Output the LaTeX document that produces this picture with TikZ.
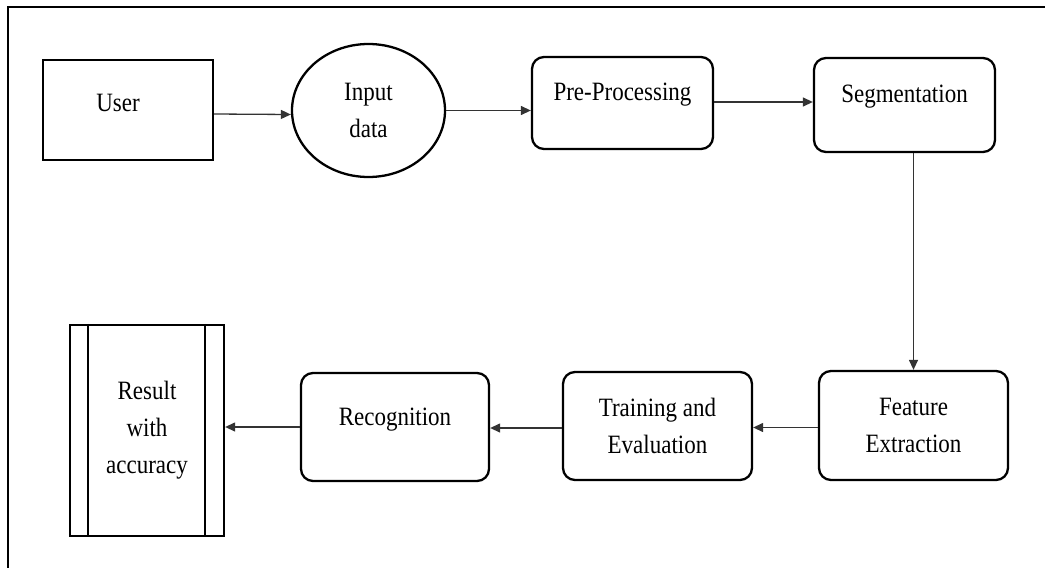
\documentclass[tikz,border=0pt]{standalone}
\usepackage{fontspec}
\usepackage{graphicx}
\setmainfont{Liberation Serif}
\usetikzlibrary{arrows.meta,shapes.geometric}
\newcommand\tallt[1]{\scalebox{1}[1.15]{#1}}
\begin{document}
\begin{tikzpicture}[x=1pt,y=-1pt,
  every node/.style={font=\fontsize{23}{37}\selectfont, align=center},
  sqbox/.style={draw, line width=2.3pt, rectangle, inner sep=0pt},
  rbox/.style={draw, line width=2.3pt, rectangle, rounded corners=12pt, inner sep=0pt},
  oval/.style={draw, line width=2.3pt, ellipse, inner sep=0pt},
  arr/.style={draw=black!80, line width=1.3pt, -{Triangle[length=10pt,width=9pt]}},
  frameline/.style={line width=2pt}]
\useasboundingbox (0,0) rectangle (1045,568);
\draw[frameline] (8,568) -- (8,7) -- (1045,7);

\node[sqbox, minimum width=170, minimum height=100,
  label={[xshift=-10pt,yshift=7pt]center:\tallt{User}}] (user) at (128,110) {};
\node[oval, minimum width=153, minimum height=133] (input) at (368.5,110.5) {\tallt{Input}\\\tallt{data}};
\node[rbox, minimum width=181, minimum height=92,
  label={[yshift=8pt]center:\tallt{Pre-Processing}}] (pre) at (622.5,103) {};
\node[rbox, minimum width=181, minimum height=94,
  label={[yshift=8pt]center:\tallt{Segmentation}}] (seg) at (904.5,105) {};
\node[rbox, minimum width=189, minimum height=109] (feat) at (913.5,425.5) {\tallt{Feature}\\\tallt{Extraction}};
\node[rbox, minimum width=189, minimum height=108] (train) at (657.5,426) {\tallt{Training and}\\\tallt{Evaluation}};
\node[rbox, minimum width=188, minimum height=108,
  label={[yshift=7pt]center:\tallt{Recognition}}] (rec) at (395,427) {};
\node[sqbox, minimum width=154, minimum height=211] (res) at (147,430.5) {\tallt{Result}\\\tallt{with}\\\tallt{accuracy}};
\draw[line width=2.3pt] ([xshift=19pt]res.north west) -- ([xshift=19pt]res.south west);
\draw[line width=2.3pt] ([xshift=-20pt]res.north east) -- ([xshift=-20pt]res.south east);

\draw[arr] ([yshift=-4pt]user.east) -- ([yshift=-4pt]input.west);
\draw[arr] (input.east) -- (pre.west |- input.east);
\draw[arr] ([yshift=1pt]pre.east) -- ([yshift=1pt]seg.west |- pre.east);
\draw[arr] (seg.south -| feat.north) -- (feat.north);
\draw[arr] ([yshift=-2pt]feat.west) -- ([yshift=-2pt]train.east |- feat.west);
\draw[arr] ([yshift=-2pt]train.west) -- ([yshift=-2pt]rec.east |- train.west);
\draw[arr] (rec.west) -- (res.east |- rec.west);
\end{tikzpicture}
\end{document}
